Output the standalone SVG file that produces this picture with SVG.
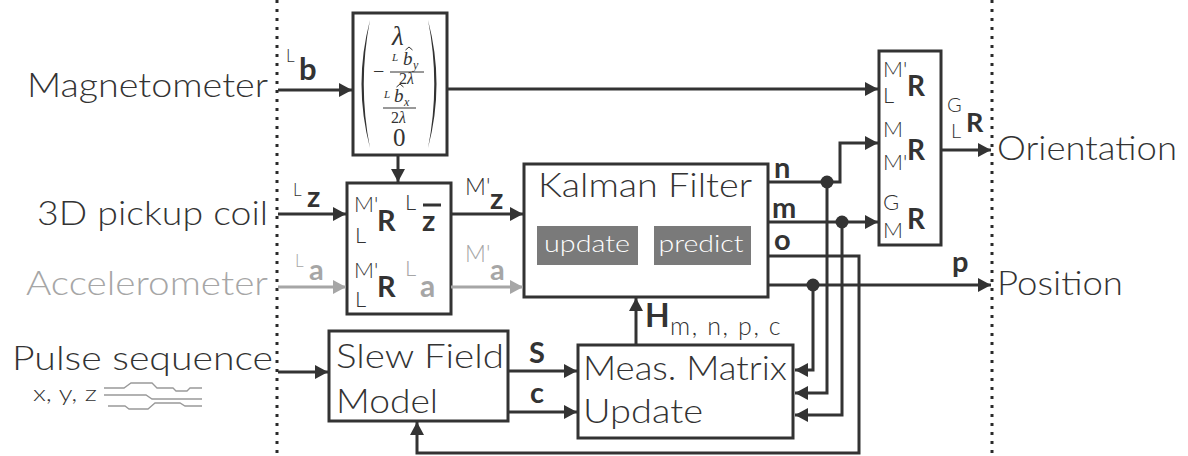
<svg xmlns="http://www.w3.org/2000/svg" width="1188" height="456" viewBox="0 0 1188 456">
<defs>
<style>
.t{font-family:Lato,"Open Sans","Liberation Sans",sans-serif;fill:#333;font-weight:300}
.b{font-weight:700}
.g{fill:#a6a6a6}
.w{fill:#fff}
.m{font-family:"Liberation Serif","DejaVu Serif",serif;fill:#333}
.i{font-style:italic}
.box{fill:#fff;stroke:#333;stroke-width:3}
.ln{fill:none;stroke:#333;stroke-width:3}
.lg{fill:none;stroke:#a6a6a6;stroke-width:3}
.dot{fill:#333}
.sep{fill:none;stroke:#2a2a2a;stroke-width:3;stroke-dasharray:3 6}
.wave{fill:none;stroke:#999;stroke-width:1.3}
.hat{fill:none;stroke:#333;stroke-width:1}
</style>
<marker id="ah" markerUnits="userSpaceOnUse" markerWidth="14" markerHeight="14" refX="13" refY="7" orient="auto"><path d="M0,0 L13,7 L0,14 z" fill="#333"/></marker>
<marker id="ahg" markerUnits="userSpaceOnUse" markerWidth="14" markerHeight="14" refX="13" refY="7" orient="auto"><path d="M0,0 L13,7 L0,14 z" fill="#a6a6a6"/></marker>
</defs>
<rect width="1188" height="456" fill="#fff"/>

<g id="separators">
<path class="sep" d="M277,0 V456"/>
<path class="sep" d="M992,0 V456"/>
</g>

<g id="inputs">
<text class="t" x="27" y="97" font-size="33" textLength="241" lengthAdjust="spacingAndGlyphs">Magnetometer</text>
<text class="t" x="37" y="225" font-size="33" textLength="231" lengthAdjust="spacingAndGlyphs">3D pickup coil</text>
<text class="t g" x="26" y="295" font-size="33" textLength="242" lengthAdjust="spacingAndGlyphs">Accelerometer</text>
<text class="t" x="12" y="370" font-size="33" textLength="261" lengthAdjust="spacingAndGlyphs">Pulse sequence</text>
<text class="t" x="33" y="401" font-size="21" textLength="64" lengthAdjust="spacingAndGlyphs">x, y, z</text>
<path class="wave" d="M104,388 H124 L131,383 H152 L157,388 H173 L176,391 H187 L190,388 H202"/>
<path class="wave" d="M104,395 H146 L152,399 H202"/>
<path class="wave" d="M108,406 H125 L129,409 H148 L155,403 H180 L185,406 H202"/>
</g>

<g id="outputs">
<text class="t" x="997" y="160" font-size="33" textLength="180" lengthAdjust="spacingAndGlyphs">Orientation</text>
<text class="t" x="997" y="295" font-size="33" textLength="126" lengthAdjust="spacingAndGlyphs">Position</text>
</g>

<g id="node-matrix">
<rect class="box" x="353" y="13" width="94" height="142"/>
<path d="M370,20 Q353,84 370,148 Q357.5,84 370,20 z" fill="#333"/>
<path d="M428,20 Q445,84 428,148 Q440.5,84 428,20 z" fill="#333"/>
<line x1="390" y1="72" x2="424" y2="72" stroke="#333" stroke-width="1"/>
<line x1="383" y1="108" x2="416" y2="108" stroke="#333" stroke-width="1"/>
<path class="hat" d="M405.5,50 L409,47 L412.5,50"/>
<path class="hat" d="M396.5,87 L400,84 L403.5,87"/>
<text class="m"><tspan class="i" x="392" y="45" font-size="27">λ</tspan><tspan x="373" y="78" font-size="20">−</tspan><tspan class="i" x="392" y="61" font-size="11">L</tspan><tspan class="i" x="403" y="65" font-size="19">b</tspan><tspan class="i" x="413" y="69" font-size="12">y</tspan><tspan x="399" y="84" font-size="16">2</tspan><tspan class="i" font-size="16">λ</tspan><tspan class="i" x="384" y="98" font-size="11">L</tspan><tspan class="i" x="394" y="102" font-size="19">b</tspan><tspan class="i" x="404" y="106" font-size="12">x</tspan><tspan x="391" y="123" font-size="16">2</tspan><tspan class="i" font-size="16">λ</tspan><tspan x="393" y="146" font-size="25">0</tspan></text>
</g>

<g id="node-rotate">
<rect class="box" x="347" y="183" width="104" height="131"/>
<text class="t" font-size="22"><tspan x="354" y="212">M'</tspan><tspan x="355" y="243">L</tspan><tspan class="b" x="377" y="231" font-size="29">R</tspan><tspan x="405" y="210">L</tspan><tspan class="b" x="422" y="231" font-size="29">z</tspan></text>
<line x1="423" y1="205" x2="441" y2="205" stroke="#333" stroke-width="3"/>
<text class="t" font-size="22"><tspan x="354" y="278">M'</tspan><tspan x="355" y="307">L</tspan><tspan class="b" x="377" y="297" font-size="29">R</tspan><tspan class="g" x="405" y="276">L</tspan><tspan class="b g" x="420" y="297" font-size="30">a</tspan></text>
</g>

<g id="node-kalman">
<rect class="box" x="524" y="164" width="244" height="133"/>
<text class="t" x="538" y="197" font-size="33" textLength="214" lengthAdjust="spacingAndGlyphs">Kalman Filter</text>
<rect x="537" y="226" width="101" height="39" fill="#7a7a7a"/>
<rect x="654" y="226" width="97" height="39" fill="#7a7a7a"/>
<text class="t w" x="587" y="252" font-size="24" text-anchor="middle" textLength="86" lengthAdjust="spacingAndGlyphs">update</text>
<text class="t w" x="701" y="252" font-size="24" text-anchor="middle" textLength="85" lengthAdjust="spacingAndGlyphs">predict</text>
</g>

<g id="node-combine">
<rect class="box" x="879" y="51" width="62" height="194"/>
<text class="t" font-size="22"><tspan x="883" y="77">M'</tspan><tspan x="883" y="103">L</tspan><tspan class="b" x="907" y="96" font-size="28">R</tspan></text>
<text class="t" font-size="22"><tspan x="883" y="137">M</tspan><tspan x="883" y="170">M'</tspan><tspan class="b" x="907" y="160" font-size="28">R</tspan></text>
<text class="t" font-size="22"><tspan x="883" y="210">G</tspan><tspan x="883" y="238">M</tspan><tspan class="b" x="907" y="229" font-size="28">R</tspan></text>
</g>

<g id="node-slew">
<rect class="box" x="329" y="331" width="179" height="90"/>
<text class="t" x="336" y="368" font-size="33" textLength="168" lengthAdjust="spacingAndGlyphs">Slew Field</text>
<text class="t" x="336" y="413" font-size="33" textLength="102" lengthAdjust="spacingAndGlyphs">Model</text>
</g>

<g id="node-meas">
<rect class="box" x="578" y="345" width="215" height="93"/>
<text class="t" x="583" y="380" font-size="33" textLength="204" lengthAdjust="spacingAndGlyphs">Meas. Matrix</text>
<text class="t" x="583" y="423" font-size="33" textLength="120" lengthAdjust="spacingAndGlyphs">Update</text>
</g>

<g id="connectors">
<path class="ln" d="M278,90 H352" marker-end="url(#ah)"/>
<path class="ln" d="M278,214 H346" marker-end="url(#ah)"/>
<path class="lg" d="M278,287 H346" marker-end="url(#ahg)"/>
<path class="ln" d="M278,372 H328" marker-end="url(#ah)"/>
<path class="ln" d="M398,155 V182" marker-end="url(#ah)"/>
<path class="ln" d="M447,89 H878" marker-end="url(#ah)"/>
<path class="ln" d="M451,214 H523" marker-end="url(#ah)"/>
<path class="lg" d="M451,287 H523" marker-end="url(#ahg)"/>
<path class="ln" d="M768,182 H840 V143 H878" marker-end="url(#ah)"/>
<path class="ln" d="M768,222 H878" marker-end="url(#ah)"/>
<path class="ln" d="M768,256 H859 V453 H417 V422" marker-end="url(#ah)"/>
<path class="ln" d="M768,285 H991" marker-end="url(#ah)"/>
<path class="ln" d="M827,182 V393 H795" marker-end="url(#ah)"/>
<path class="ln" d="M842,222 V415 H795" marker-end="url(#ah)"/>
<path class="ln" d="M813,285 V370 H795" marker-end="url(#ah)"/>
<path class="ln" d="M941,150 H991" marker-end="url(#ah)"/>
<path class="ln" d="M508,371 H577" marker-end="url(#ah)"/>
<path class="ln" d="M508,412 H577" marker-end="url(#ah)"/>
<path class="ln" d="M636,345 V298" marker-end="url(#ah)"/>
<circle class="dot" cx="827" cy="182" r="6.5"/>
<circle class="dot" cx="842" cy="222" r="6.5"/>
<circle class="dot" cx="813" cy="285" r="6.5"/>
<text class="t"><tspan x="286" y="62" font-size="17">L</tspan><tspan class="b" x="299" y="80" font-size="31">b</tspan></text>
<text class="t"><tspan x="293" y="196" font-size="17">L</tspan><tspan class="b" x="307" y="207" font-size="29">z</tspan></text>
<text class="t g"><tspan x="295" y="267" font-size="17">L</tspan><tspan class="b" x="309" y="280" font-size="29">a</tspan></text>
<text class="t"><tspan x="465" y="195" font-size="23">M'</tspan><tspan class="b" x="490" y="209" font-size="29">z</tspan></text>
<text class="t g"><tspan x="465" y="262" font-size="23">M'</tspan><tspan class="b" x="490" y="280" font-size="29">a</tspan></text>
<text class="t b" x="774" y="178" font-size="29">n</text>
<text class="t b" x="772" y="218" font-size="29">m</text>
<text class="t b" x="774" y="250" font-size="29">o</text>
<text class="t b" x="952" y="272" font-size="29">p</text>
<text class="t" font-size="20"><tspan x="947" y="112">G</tspan><tspan x="951" y="138">L</tspan><tspan class="b" x="966" y="132" font-size="27">R</tspan></text>
<text class="t b" x="529" y="363" font-size="29">S</text>
<text class="t b" x="530" y="403" font-size="29">c</text>
<text class="t"><tspan class="b" x="645" y="327" font-size="32">H</tspan><tspan x="670" y="335" font-size="25" letter-spacing="1.6">m, n, p, c</tspan></text>
</g>
</svg>
